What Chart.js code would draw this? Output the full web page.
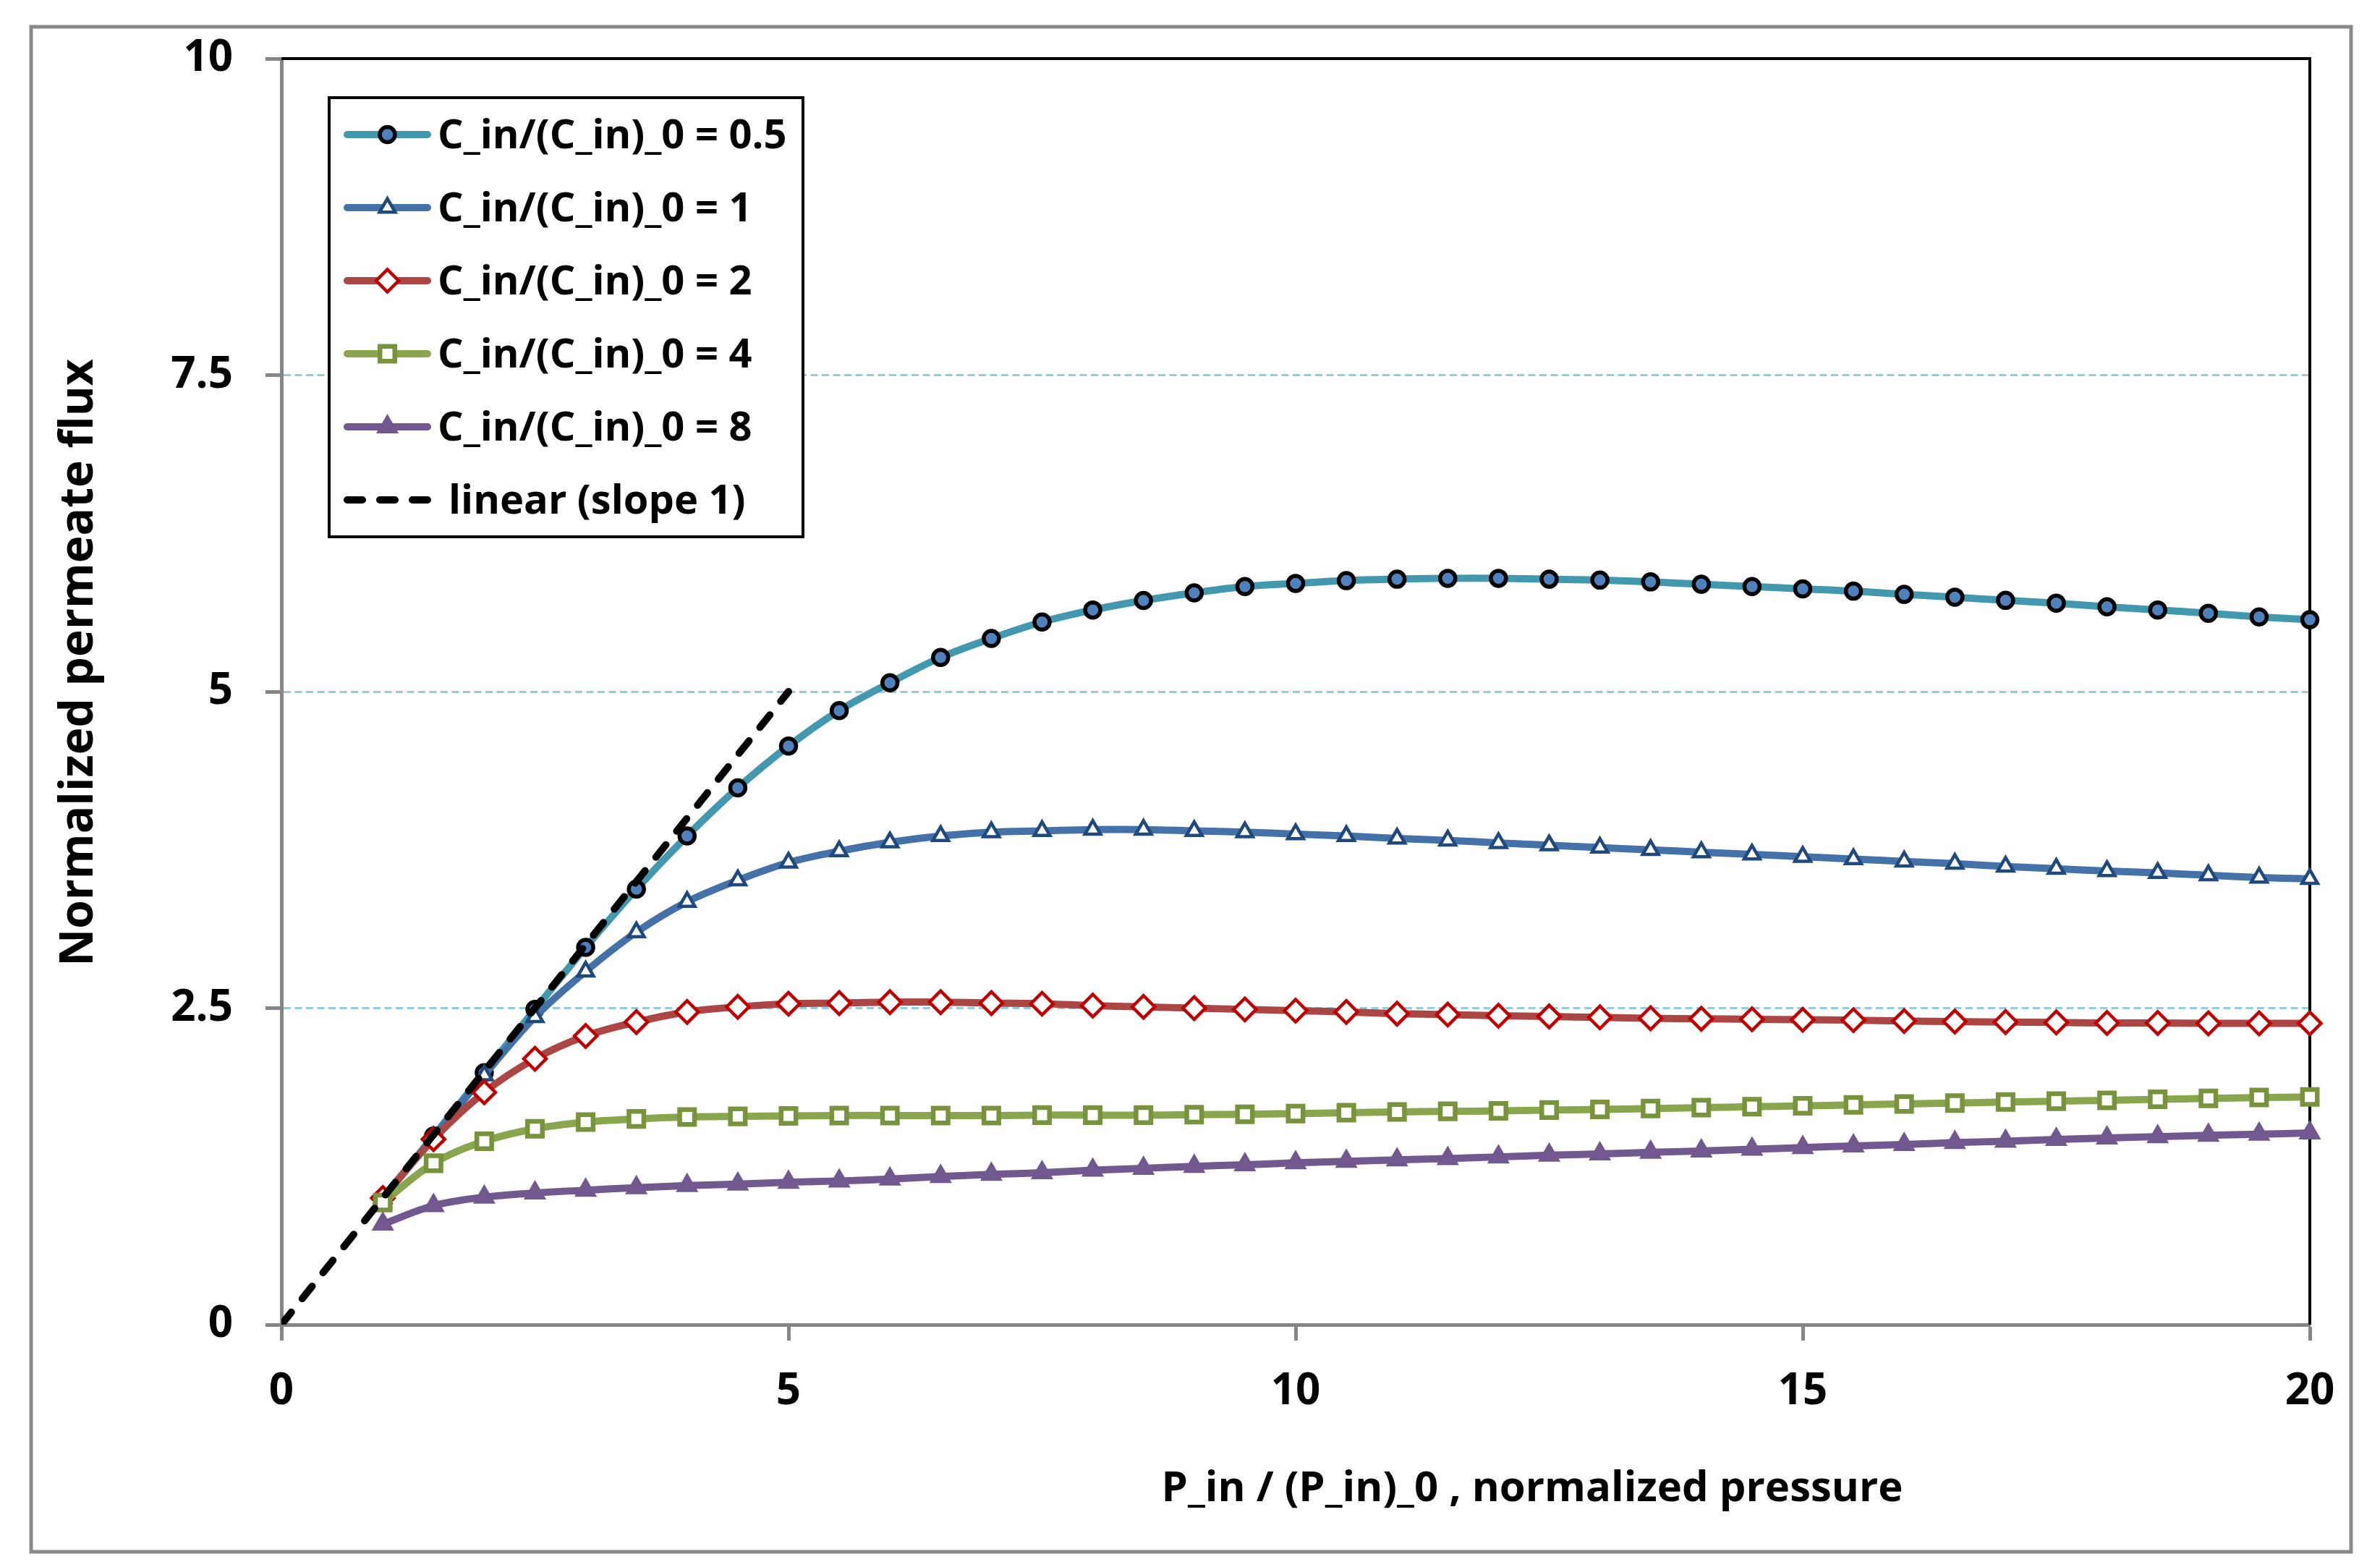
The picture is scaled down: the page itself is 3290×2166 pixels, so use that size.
<!DOCTYPE html>
<html>
<head>
<meta charset="utf-8">
<title>Normalized permeate flux</title>
<script src="https://cdn.jsdelivr.net/npm/chart.js@4.4.1/dist/chart.umd.min.js"></script>
<style>
  html, body { margin: 0; padding: 0; background: #fff; }
  canvas { display: block; }
</style>
</head>
<body>
<canvas id="fluxChart" width="3290" height="2166"></canvas>
<script>
// normalized pressure P_in / (P_in)_0
const pressure = [1, 1.5, 2, 2.5, 3, 3.5, 4, 4.5, 5, 5.5, 6, 6.5, 7, 7.5, 8, 8.5, 9, 9.5, 10,
  10.5, 11, 11.5, 12, 12.5, 13, 13.5, 14, 14.5, 15, 15.5, 16, 16.5, 17, 17.5, 18, 18.5, 19, 19.5, 20];

// normalized permeate flux, one array per feed concentration ratio
const flux05 = [1.0, 1.49, 1.99, 2.49, 2.98, 3.44, 3.86, 4.24, 4.57, 4.85, 5.07, 5.27, 5.42, 5.55,
  5.645, 5.72, 5.78, 5.83, 5.855, 5.877, 5.888, 5.895, 5.895, 5.888, 5.881, 5.867, 5.848, 5.83,
  5.812, 5.794, 5.768, 5.746, 5.721, 5.699, 5.67, 5.645, 5.619, 5.59, 5.568];
const flux1 = [1.0, 1.48, 1.97, 2.43, 2.79, 3.10, 3.34, 3.51, 3.65, 3.74, 3.81, 3.86, 3.89, 3.90,
  3.91, 3.91, 3.90, 3.89, 3.875, 3.86, 3.84, 3.825, 3.805, 3.787, 3.768, 3.75, 3.732, 3.714,
  3.696, 3.677, 3.659, 3.641, 3.619, 3.601, 3.583, 3.568, 3.55, 3.532, 3.521];
const flux2 = [1.0, 1.465, 1.835, 2.10, 2.28, 2.39, 2.47, 2.51, 2.535, 2.54, 2.547, 2.547, 2.54,
  2.535, 2.52, 2.51, 2.50, 2.49, 2.48, 2.47, 2.456, 2.449, 2.44, 2.434, 2.427, 2.42, 2.416,
  2.412, 2.408, 2.405, 2.398, 2.394, 2.39, 2.387, 2.383, 2.383, 2.38, 2.38, 2.38];
const flux4 = [0.964, 1.275, 1.448, 1.547, 1.60, 1.625, 1.64, 1.645, 1.648, 1.652, 1.652, 1.652,
  1.652, 1.655, 1.655, 1.655, 1.658, 1.662, 1.667, 1.674, 1.68, 1.685, 1.688, 1.695, 1.70,
  1.707, 1.714, 1.721, 1.728, 1.736, 1.743, 1.75, 1.758, 1.765, 1.772, 1.78, 1.787, 1.794, 1.798];
const flux8 = [0.794, 0.94, 1.007, 1.04, 1.062, 1.082, 1.098, 1.11, 1.125, 1.135, 1.15, 1.17,
  1.187, 1.20, 1.22, 1.235, 1.25, 1.263, 1.278, 1.29, 1.302, 1.312, 1.325, 1.338, 1.348, 1.361,
  1.372, 1.386, 1.398, 1.412, 1.423, 1.438, 1.449, 1.463, 1.474, 1.485, 1.496, 1.504, 1.514];

// reference line of slope 1
const linearX = [0, 5];
const linearY = [0, 5];

const seriesLabels = [
  'C_in/(C_in)_0 = 0.5',
  'C_in/(C_in)_0 = 1',
  'C_in/(C_in)_0 = 2',
  'C_in/(C_in)_0 = 4',
  'C_in/(C_in)_0 = 8',
  'linear (slope 1)'
];

const xTicks = [0, 5, 10, 15, 20];
const yTicks = [0, 2.5, 5, 7.5, 10];
const xTitle = 'P_in / (P_in)_0 , normalized pressure';
const yTitle = 'Normalized permeate flux';

const FONT = '"Open Sans", "Noto Sans", sans-serif';

function pairs(xs, ys) {
  return xs.map((x, i) => ({ x: x, y: ys[i] }));
}

function series(label, values, line, style, fill, border, radius, borderWidth, order) {
  return {
    label: label,
    data: pairs(pressure, values),
    borderColor: line,
    borderWidth: 10,
    tension: 0.35,
    pointStyle: style,
    pointRadius: radius,
    pointBorderWidth: borderWidth,
    pointBackgroundColor: fill,
    pointBorderColor: border,
    clip: false,
    order: order
  };
}

const datasets = [
  series(seriesLabels[0], flux05, '#4198AF', 'circle', '#4F81BD', '#000000', 10.5, 5.5, 5),
  series(seriesLabels[1], flux1, '#4571A9', 'triangle', '#FFFFFF', '#1F497D', 12.5, 4.5, 4),
  series(seriesLabels[2], flux2, '#AA4643', 'rectRot', '#FFFFFF', '#C00000', 15.5, 4.5, 3),
  series(seriesLabels[3], flux4, '#89A54E', 'rect', '#FFFFFF', '#77933C', 14.5, 6.5, 2),
  series(seriesLabels[4], flux8, '#71588F', 'triangle', '#71588F', '#71588F', 16, 2, 1),
  {
    label: seriesLabels[5],
    data: pairs(linearX, linearY),
    borderColor: '#000000',
    borderWidth: 10,
    borderDash: [22, 24],
    borderCapStyle: 'round',
    pointRadius: 0,
    order: 0
  }
];

// page frame, plot border, legend box and axis titles
const decorations = {
  id: 'decorations',
  beforeDraw(chart) {
    const ctx = chart.ctx;
    ctx.save();
    ctx.fillStyle = '#ffffff';
    ctx.fillRect(0, 0, chart.width, chart.height);
    ctx.strokeStyle = '#898989';
    ctx.lineWidth = 5;
    ctx.strokeRect(43, 37, chart.width - 83, chart.height - 58);
    ctx.restore();
  },
  beforeDatasetsDraw(chart) {
    const { ctx, chartArea: a } = chart;
    ctx.save();
    ctx.strokeStyle = '#000000';
    ctx.lineWidth = 4;
    ctx.beginPath();
    ctx.moveTo(a.left, a.top);
    ctx.lineTo(a.right, a.top);
    ctx.lineTo(a.right, a.bottom);
    ctx.stroke();
    ctx.restore();
  },
  afterDatasetsDraw(chart) {
    const { ctx, chartArea: a } = chart;
    const left = a.left + 66;
    const top = a.top + 54;
    ctx.save();
    ctx.fillStyle = '#ffffff';
    ctx.fillRect(left, top, 655, 607);
    ctx.strokeStyle = '#000000';
    ctx.lineWidth = 4;
    ctx.strokeRect(left, top, 655, 607);

    chart.data.datasets.forEach((ds, i) => {
      const y = top + 51 + i * 101;
      const x0 = left + 25;
      const x1 = left + 136;
      ctx.lineCap = 'round';
      ctx.lineWidth = ds.borderWidth;
      ctx.strokeStyle = ds.borderColor;
      ctx.setLineDash(ds.borderDash ? [21, 24] : []);
      ctx.beginPath();
      ctx.moveTo(x0, y);
      ctx.lineTo(ds.borderDash ? x1 + 6 : x1, y);
      ctx.stroke();
      ctx.setLineDash([]);
      if (ds.pointRadius > 0) {
        ctx.fillStyle = ds.pointBackgroundColor;
        ctx.strokeStyle = ds.pointBorderColor;
        ctx.lineWidth = ds.pointBorderWidth;
        Chart.helpers.drawPoint(ctx, {
          pointStyle: ds.pointStyle,
          radius: ds.pointRadius,
          borderWidth: ds.pointBorderWidth,
          rotation: 0
        }, (x0 + x1) / 2, y);
      }
      ctx.fillStyle = '#000000';
      ctx.font = 'bold 56px ' + FONT;
      ctx.textAlign = 'left';
      ctx.textBaseline = 'alphabetic';
      ctx.fillText(ds.label, ds.pointRadius > 0 ? left + 150 : left + 165, y + 19);
    });
    ctx.restore();
  },
  afterDraw(chart) {
    const { ctx, chartArea: a } = chart;
    ctx.save();
    ctx.fillStyle = '#000000';
    ctx.textAlign = 'center';
    ctx.textBaseline = 'alphabetic';
    ctx.font = 'bold 58px ' + FONT;
    ctx.fillText(xTitle, a.left + 1729, a.bottom + 244);
    ctx.translate(128, a.top + 835);
    ctx.rotate(-Math.PI / 2);
    ctx.font = 'bold 64px ' + FONT;
    ctx.fillText(yTitle, 0, 0);
    ctx.restore();
  }
};

const ctx = document.getElementById('fluxChart').getContext('2d');
new Chart(ctx, {
  type: 'line',
  data: { datasets: datasets },
  options: {
    responsive: false,
    animation: false,
    devicePixelRatio: 1,
    layout: { padding: { top: 78, right: 97, left: 0, bottom: 0 } },
    plugins: {
      legend: { display: false },
      tooltip: { enabled: false }
    },
    scales: {
      x: {
        type: 'linear',
        min: 0,
        max: 20,
        afterBuildTicks: (scale) => { scale.ticks = xTicks.map((v) => ({ value: v })); },
        afterFit: (scale) => { scale.height = 335; },
        border: { display: true, color: '#868686', width: 5 },
        grid: {
          drawOnChartArea: false,
          tickColor: '#868686',
          tickWidth: 5,
          tickLength: 22
        },
        ticks: {
          color: '#000000',
          padding: 35,
          maxRotation: 0,
          font: { family: FONT, size: 60, weight: 'bold' }
        },
        title: { display: false }
      },
      y: {
        min: 0,
        max: 10,
        afterBuildTicks: (scale) => { scale.ticks = yTicks.map((v) => ({ value: v })); },
        afterFit: (scale) => { scale.width = 389; },
        border: { display: true, color: '#868686', width: 5, dash: [10, 5.5] },
        grid: {
          color: (c) => (c.tick && (c.tick.value === 0 || c.tick.value === 10)) ? 'rgba(0,0,0,0)' : '#93CDDD',
          lineWidth: 3,
          tickColor: '#868686',
          tickWidth: 5,
          tickLength: 22,
          tickBorderDash: []
        },
        ticks: {
          color: '#000000',
          padding: 45,
          font: { family: FONT, size: 60, weight: 'bold' }
        },
        title: { display: false }
      }
    }
  },
  plugins: [decorations]
});
</script>
</body>
</html>
